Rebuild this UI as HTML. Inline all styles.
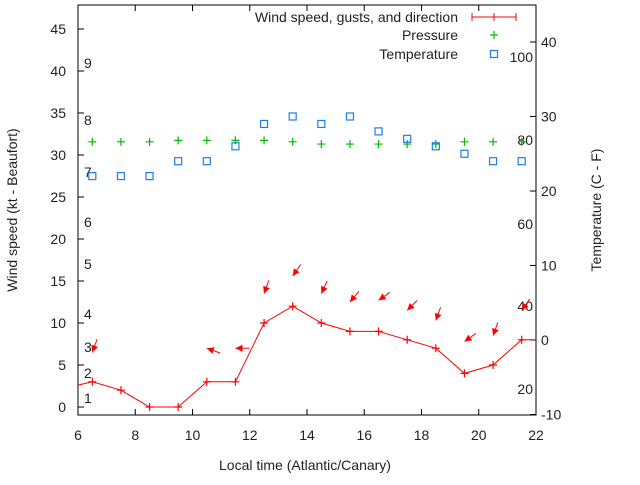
<!DOCTYPE html>
<html><head><meta charset="utf-8"><style>body{margin:0;background:#fff}svg text{font-family:"Liberation Sans",sans-serif;font-size:14px;fill:#222}</style></head>
<body>
<svg id="c" width="640" height="480"></svg>
<script>
const hours=[6.5,7.5,8.5,9.5,10.5,11.5,12.5,13.5,14.5,15.5,16.5,17.5,18.5,19.5,20.5,21.5];
const wind=[3,2,0,0,3,3,10,12,10,9,9,8,7,4,5,8];
const windStart=2.6;
const gust=[6.5,null,null,null,7,7,13.5,15.6,13.5,12.5,12.7,11.5,10.3,7.8,8.5,11.5];
const dir=[20,null,null,null,110,90,20,35,25,40,55,45,20,55,20,35];
const pressure=[26.6,26.6,26.6,26.8,26.8,26.8,26.8,26.6,26.3,26.3,26.3,26.3,26.3,26.6,26.6,26.6];
const temp=[22,22,22,24,24,26,29,30,29,30,28,27,26,25,24,24];
const xTicks=[6,8,10,12,14,16,18,20,22];
const leftTicks=[0,5,10,15,20,25,30,35,40,45];
const rightTicks=[-10,0,10,20,30,40];
const beaufort=[[1,398],[2,373],[3,347],[4,314],[5,264],[6,222],[7,172],[8,120],[9,63]];
const fahr=[[100,57],[80,140],[60,224],[40,306],[20,389]];
const L=78,R=536,T=5,B=415;
const X=h=>L+(h-6)/16*(R-L);
const YL=v=>407-v*8.4;
const YR=v=>340-v*7.45;
const s=document.getElementById('c');const NS='http://www.w3.org/2000/svg';
function el(t,a,p){const e=document.createElementNS(NS,t);for(const k in a)e.setAttribute(k,a[k]);(p||s).appendChild(e);return e;}
function tx(x,y,str,anchor,rot){const e=el('text',{x:x,y:y,'text-anchor':anchor||'start'});if(rot)e.setAttribute('transform',`rotate(${rot} ${x} ${y})`);e.textContent=str;return e;}
const frame=el('rect',{x:L,y:T,width:R-L,height:B-T,fill:'none',stroke:'#000','stroke-width':1});

xTicks.forEach(h=>{el('line',{x1:X(h),x2:X(h),y1:B,y2:B-6,stroke:'#000'});el('line',{x1:X(h),x2:X(h),y1:T,y2:T+6,stroke:'#000'});
const t=tx(X(h),440,h,'middle');});
leftTicks.forEach(v=>{el('line',{x1:L,x2:L+6,y1:YL(v),y2:YL(v),stroke:'#000'});const t=tx(66,YL(v)+5,v,'end');});
rightTicks.forEach(v=>{el('line',{x1:R,x2:R-6,y1:YR(v),y2:YR(v),stroke:'#000'});const t=tx(541,YR(v)+5,v,'start');});
beaufort.forEach(b=>{const t=tx(84,b[1]+5,b[0]);});
fahr.forEach(b=>{const t=tx(533,b[1]+5,b[0],'end');});
let t=tx(305,470,'Local time (Atlantic/Canary)','middle');
t=tx(17,210,'Wind speed (kt - Beaufort)','middle',-90);
t=tx(601,210,'Temperature (C - F)','middle',-90);
let pts=[[L,YL(windStart)]];
hours.forEach((h,i)=>pts.push([X(h),YL(wind[i])]));pts.push([R,YL(wind[wind.length-1])]);
const wl=el('polyline',{points:pts.map(p=>p.join(',')).join(' '),fill:'none',stroke:'#f00','stroke-width':1});

hours.forEach((h,i)=>{const g=el('g',{});el('path',{d:`M${X(h)-4},${YL(wind[i])}h8M${X(h)},${YL(wind[i])-4}v8`,stroke:'#f00','stroke-width':1.2},g);});
hours.forEach((h,i)=>{if(gust[i]==null)return;const x=X(h),y=YL(gust[i]);const a=dir[i]*Math.PI/180;const dx=Math.sin(a),dy=-Math.cos(a);
const g=el('g',{});
el('line',{x1:x,y1:y,x2:x+dx*14,y2:y+dy*14,stroke:'#f00','stroke-width':1},g);
const px=-dy,py=dx;el('polygon',{points:`${x},${y} ${x+dx*7+px*3.5},${y+dy*7+py*3.5} ${x+dx*7-px*3.5},${y+dy*7-py*3.5}`,fill:'#f00'},g);});
hours.forEach((h,i)=>{const g=el('g',{});el('path',{d:`M${X(h)-4},${YR(pressure[i])}h8M${X(h)},${YR(pressure[i])-4}v8`,stroke:'#0b0','stroke-width':1.2},g);});
hours.forEach((h,i)=>{const r=el('rect',{x:X(h)-3.5,y:YR(temp[i])-3.5,width:7,height:7,fill:'none',stroke:'#1a7fe8','stroke-width':1.2});});
const lg=el('g',{});
[['Wind speed, gusts, and direction',22],['Pressure',40],['Temperature',59]].forEach((l,i)=>{const e=el('text',{x:458,y:l[1],'text-anchor':'end'},lg);e.textContent=l[0];});
el('path',{d:'M472,17h44M472,13v8M516,13v8M494,13v8',stroke:'#f00'},lg);
el('path',{d:'M490,35h8M494,31v8',stroke:'#0b0','stroke-width':1.2},lg);
el('rect',{x:490.5,y:50.5,width:7,height:7,fill:'none',stroke:'#1a7fe8','stroke-width':1.2},lg);
</script>
</body></html>
